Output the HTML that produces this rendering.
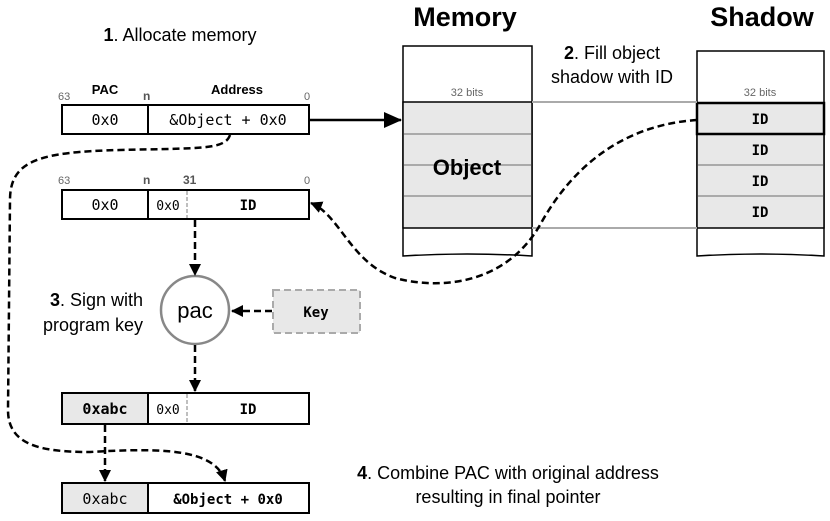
<!DOCTYPE html>
<html><head><meta charset="utf-8"><style>
html,body{margin:0;padding:0;background:#fff;}
svg{display:block;}
.s{font-family:"Liberation Sans",sans-serif;}
.m{font-family:"DejaVu Sans Mono","Liberation Mono",monospace;}
</style></head><body>
<svg width="830" height="521" viewBox="0 0 830 521" xmlns="http://www.w3.org/2000/svg">
<defs>
<marker id="a" markerWidth="12" markerHeight="12" refX="11" refY="6" orient="auto" markerUnits="userSpaceOnUse"><path d="M0,0 L12,6 L0,12 z" fill="#000"/></marker>
<marker id="b" markerWidth="18" markerHeight="16" refX="17" refY="8" orient="auto" markerUnits="userSpaceOnUse"><path d="M0,0 L18,8 L0,16 z" fill="#000"/></marker>
</defs>
<g class="s" font-size="18">
<text x="180" y="41" text-anchor="middle"><tspan font-weight="bold">1</tspan>. Allocate memory</text>
<text x="612" y="59" text-anchor="middle"><tspan font-weight="bold">2</tspan>. Fill object</text>
<text x="612" y="83" text-anchor="middle">shadow with ID</text>
<text x="143" y="306" text-anchor="end"><tspan font-weight="bold">3</tspan>. Sign with</text>
<text x="143" y="331" text-anchor="end">program key</text>
<text x="508" y="479" text-anchor="middle"><tspan font-weight="bold">4</tspan>. Combine PAC with original address</text>
<text x="508" y="503" text-anchor="middle">resulting in final pointer</text>
<text x="465" y="26" text-anchor="middle" font-size="27" font-weight="bold">Memory</text>
<text x="762" y="26" text-anchor="middle" font-size="27" font-weight="bold">Shadow</text>
</g>
<!-- memory -->
<path d="M403,46 H532 V256 Q467,252 403,256 Z" fill="#fff" stroke="#000" stroke-width="1.5"/>
<rect x="403" y="102" width="129" height="126" fill="#e8e8e8" stroke="#000" stroke-width="1.5"/>
<g stroke="#aaa" stroke-width="2"><line x1="404" y1="134" x2="531" y2="134"/><line x1="404" y1="165" x2="531" y2="165"/><line x1="404" y1="196" x2="531" y2="196"/></g>
<text x="467" y="96" text-anchor="middle" class="s" font-size="11" fill="#666">32 bits</text>
<text x="467" y="175" text-anchor="middle" class="s" font-size="22" font-weight="bold">Object</text>
<!-- shadow -->
<path d="M697,51 H824 V256 Q760,252 697,256 Z" fill="#fff" stroke="#000" stroke-width="1.5"/>
<rect x="697" y="103" width="127" height="125" fill="#e8e8e8" stroke="#000" stroke-width="1.5"/>
<g stroke="#aaa" stroke-width="2"><line x1="698" y1="165" x2="823" y2="165"/><line x1="698" y1="196" x2="823" y2="196"/></g>
<rect x="697" y="103" width="127" height="31" fill="none" stroke="#000" stroke-width="2.5"/>
<text x="760" y="96" text-anchor="middle" class="s" font-size="11" fill="#666">32 bits</text>
<g class="m" font-size="14" font-weight="bold" text-anchor="middle">
<text x="760" y="124">ID</text><text x="760" y="155">ID</text><text x="760" y="186">ID</text><text x="760" y="217">ID</text></g>
<g stroke="#aaa" stroke-width="2"><line x1="532" y1="102" x2="697" y2="102"/><line x1="532" y1="228" x2="697" y2="228"/></g>
<!-- bit labels -->
<g class="s" font-size="11" fill="#666"><text x="58" y="100">63</text><text x="304" y="100">0</text><text x="58" y="184">63</text><text x="304" y="184">0</text></g>
<g class="s" font-size="13" font-weight="bold"><text x="105" y="94" text-anchor="middle">PAC</text><text x="237" y="94" text-anchor="middle">Address</text>
<text x="143" y="100" fill="#555" font-size="12">n</text><text x="143" y="184" fill="#555" font-size="12">n</text><text x="183" y="184" fill="#555" font-size="12">31</text></g>
<!-- box1 -->
<rect x="62" y="105" width="247" height="29" fill="#fff" stroke="#000" stroke-width="2"/>
<line x1="148" y1="105" x2="148" y2="134" stroke="#000" stroke-width="2"/>
<g class="m" font-size="15" text-anchor="middle"><text x="105" y="125">0x0</text><text x="228" y="125">&amp;Object + 0x0</text></g>
<!-- box2 -->
<rect x="62" y="190" width="247" height="29" fill="#fff" stroke="#000" stroke-width="2"/>
<line x1="148" y1="190" x2="148" y2="219" stroke="#000" stroke-width="2"/>
<line x1="187" y1="191" x2="187" y2="218" stroke="#aaa" stroke-width="1.5" stroke-dasharray="4,2"/>
<g class="m" text-anchor="middle"><text x="105" y="210" font-size="15">0x0</text><text x="168" y="210" font-size="13">0x0</text><text x="248" y="210" font-size="14" font-weight="bold">ID</text></g>
<!-- box3 -->
<rect x="62" y="393" width="86" height="31" fill="#e8e8e8"/>
<rect x="62" y="393" width="247" height="31" fill="none" stroke="#000" stroke-width="2"/>
<line x1="148" y1="393" x2="148" y2="424" stroke="#000" stroke-width="2"/>
<line x1="187" y1="394" x2="187" y2="423" stroke="#aaa" stroke-width="1.5" stroke-dasharray="4,2"/>
<g class="m" text-anchor="middle"><text x="105" y="414" font-size="15" font-weight="bold">0xabc</text><text x="168" y="414" font-size="13">0x0</text><text x="248" y="414" font-size="14" font-weight="bold">ID</text></g>
<!-- box4 -->
<rect x="62" y="483" width="86" height="30" fill="#e8e8e8"/>
<rect x="62" y="483" width="247" height="30" fill="none" stroke="#000" stroke-width="2"/>
<line x1="148" y1="483" x2="148" y2="513" stroke="#000" stroke-width="2"/>
<g class="m" text-anchor="middle"><text x="105" y="504" font-size="15">0xabc</text><text x="228" y="504" font-size="14" font-weight="bold">&amp;Object + 0x0</text></g>
<!-- pac circle & key -->
<circle cx="195" cy="310" r="34" fill="#fff" stroke="#888" stroke-width="2.5"/>
<text x="195" y="318" text-anchor="middle" class="s" font-size="22">pac</text>
<rect x="273" y="290" width="87" height="43" fill="#e8e8e8" stroke="#aaa" stroke-width="2" stroke-dasharray="7,4"/>
<text x="316" y="317" text-anchor="middle" class="m" font-size="14" font-weight="bold">Key</text>
<!-- arrows -->
<g fill="none" stroke="#000" stroke-width="2.5">
<line x1="309" y1="120" x2="401" y2="120" marker-end="url(#b)"/>
<g stroke-dasharray="7,4">
<line x1="195" y1="220" x2="195" y2="275" marker-end="url(#a)"/>
<line x1="195" y1="345" x2="195" y2="391" marker-end="url(#a)"/>
<line x1="272" y1="311" x2="232" y2="311" marker-end="url(#a)"/>
<line x1="105" y1="425" x2="105" y2="481" marker-end="url(#a)"/>
<path d="M230,135 C225,150 200,148 120,150 C40,152 10,160 10,200 L8,410 C8,445 40,452 90,452 C160,448 215,448 225,481" marker-end="url(#a)"/>
<path d="M697,120 C620,125 570,170 540,225 C505,285 440,290 395,278 C350,262 340,215 311,203" marker-end="url(#a)"/>
</g></g>
</svg>
</body></html>
